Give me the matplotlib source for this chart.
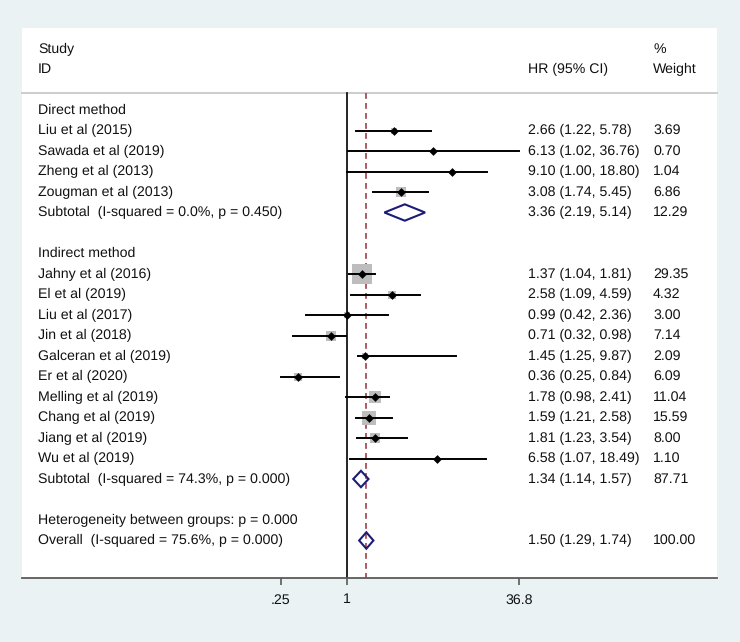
import numpy as np
import matplotlib
matplotlib.use("Agg")
import matplotlib.pyplot as plt
from matplotlib.patches import Polygon
import matplotlib.transforms as mtransforms

plt.rcParams['font.family'] = ['Liberation Sans', 'DejaVu Sans']
plt.rcParams['text.hinting'] = 'no_hinting'

# ---------------- data ----------------
group1_name = "Direct method"
group1_studies = ["Liu et al (2015)", "Sawada et al (2019)", "Zheng et al (2013)", "Zougman et al (2013)"]
group1_hr = [2.66, 6.13, 9.10, 3.08]
group1_lo = [1.22, 1.02, 1.00, 1.74]
group1_hi = [5.78, 36.76, 18.80, 5.45]
group1_w = [3.69, 0.70, 1.04, 6.86]
group1_sub = (3.36, 2.19, 5.14, 12.29)
group1_sub_label = "Subtotal  (I-squared = 0.0%, p = 0.450)"

group2_name = "Indirect method"
group2_studies = ["Jahny et al (2016)", "El et al (2019)", "Liu et al (2017)", "Jin et al (2018)",
                  "Galceran et al (2019)", "Er et al (2020)", "Melling et al (2019)",
                  "Chang et al (2019)", "Jiang et al (2019)", "Wu et al (2019)"]
group2_hr = [1.37, 2.58, 0.99, 0.71, 1.45, 0.36, 1.78, 1.59, 1.81, 6.58]
group2_lo = [1.04, 1.09, 0.42, 0.32, 1.25, 0.25, 0.98, 1.21, 1.23, 1.07]
group2_hi = [1.81, 4.59, 2.36, 0.98, 9.87, 0.84, 2.41, 2.58, 3.54, 18.49]
group2_w = [29.35, 4.32, 3.00, 7.14, 2.09, 6.09, 11.04, 15.59, 8.00, 1.10]
group2_sub = (1.34, 1.14, 1.57, 87.71)
group2_sub_label = "Subtotal  (I-squared = 74.3%, p = 0.000)"

het_label = "Heterogeneity between groups: p = 0.000"
overall = (1.50, 1.29, 1.74, 100.00)
overall_label = "Overall  (I-squared = 75.6%, p = 0.000)"

xticks = [0.25, 1, 36.8]
xtick_labels = [".25", "1", "36.8"]

# ---------------- figure ----------------
W, H = 740, 642
fig = plt.figure(figsize=(W / 100, H / 100), dpi=100)
fig.patch.set_facecolor('#EAF2F3')

left_px, right_px, top_px, bot_px = 22, 717, 28, 578
ax = fig.add_axes([left_px / W, 1 - bot_px / H, (right_px - left_px) / W, (bot_px - top_px) / H])
ax.set_facecolor('white')

px_per_ln = 47.7
x1_px = 347
ax.set_xscale('log')
ax.set_xlim(np.exp((left_px - x1_px) / px_per_ln), np.exp((right_px - x1_px) / px_per_ln))

row_h = 20.5
row0_px = 110
ax.set_ylim((bot_px - row0_px) / row_h, (top_px - row0_px) / row_h)

for s in ['top', 'left', 'right']:
    ax.spines[s].set_visible(False)
ax.spines['bottom'].set_color('#5a5a5a')
ax.spines['bottom'].set_linewidth(1.3)
ax.set_yticks([])
ax.set_xticks(xticks)
ax.set_xticklabels(xtick_labels)
ax.xaxis.set_minor_locator(matplotlib.ticker.NullLocator())
ax.tick_params(axis='x', length=5, width=1.2, color='#5a5a5a', labelsize=10.2, pad=6, labelcolor='#111111')

tr = mtransforms.blended_transform_factory(ax.transAxes, ax.transData)
fs = 10.2
col_lab = (38 - left_px) / (right_px - left_px)
col_hr = (528 - left_px) / (right_px - left_px)
col_w = (653 - left_px) / (right_px - left_px)
tc = '#111111'

header_row = (93 - row0_px) / row_h
ax.plot([0, 1], [header_row, header_row], transform=tr, color='#c8c8c8', lw=1.3, clip_on=False)
ax.text(col_lab, (49 - row0_px) / row_h, "Study", transform=tr, fontsize=fs, va='center', color=tc)
ax.text(col_lab, (69 - row0_px) / row_h, "ID", transform=tr, fontsize=fs, va='center', color=tc)
ax.text(col_hr, (69 - row0_px) / row_h, "HR (95% CI)", transform=tr, fontsize=fs, va='center', color=tc)
ax.text(col_w, (49 - row0_px) / row_h, "%", transform=tr, fontsize=fs, va='center', color=tc)
ax.text(col_w, (69 - row0_px) / row_h, "Weight", transform=tr, fontsize=fs, va='center', color=tc)

ybottom = ax.get_ylim()[0]
ax.plot([1, 1], [header_row, ybottom], color='black', lw=1.2, zorder=2)
ax.plot([overall[0], overall[0]], [header_row, ybottom], color='#a0404a', lw=1.2,
        ls=(0, (3.5, 2.5)), zorder=2)

def study_row(y, name, hr, lo, hi, w):
    ax.text(col_lab, y, name, transform=tr, fontsize=fs, va='center', color=tc)
    ax.scatter([hr], [y], marker='s', s=6.39 * w, color='#bdbdbd', zorder=3, linewidths=0)
    ax.plot([lo, hi], [y, y], color='black', lw=1.4, zorder=4)
    ax.scatter([hr], [y], marker='D', s=20, color='black', zorder=5, linewidths=0)
    ax.text(col_hr, y, f"{hr:.2f} ({lo:.2f}, {hi:.2f})", transform=tr, fontsize=fs, va='center', color=tc)
    ax.text(col_w, y, f"{w:.2f}", transform=tr, fontsize=fs, va='center', color=tc)

def diamond_row(y, label, est):
    hr, lo, hi, w = est
    ax.text(col_lab, y, label, transform=tr, fontsize=fs, va='center', color=tc)
    hh = 0.4
    poly = Polygon([(lo, y), (hr, y - hh), (hi, y), (hr, y + hh)], closed=True,
                   facecolor='none', edgecolor='#1c1c78', lw=1.5, zorder=5)
    ax.add_patch(poly)
    ax.text(col_hr, y, f"{hr:.2f} ({lo:.2f}, {hi:.2f})", transform=tr, fontsize=fs, va='center', color=tc)
    ax.text(col_w, y, f"{w:.2f}", transform=tr, fontsize=fs, va='center', color=tc)

y = 0
ax.text(col_lab, y, group1_name, transform=tr, fontsize=fs, va='center', color=tc)
y += 1
for i in range(len(group1_studies)):
    study_row(y, group1_studies[i], group1_hr[i], group1_lo[i], group1_hi[i], group1_w[i])
    y += 1
diamond_row(y, group1_sub_label, group1_sub)
y += 2
ax.text(col_lab, y, group2_name, transform=tr, fontsize=fs, va='center', color=tc)
y += 1
for i in range(len(group2_studies)):
    study_row(y, group2_studies[i], group2_hr[i], group2_lo[i], group2_hi[i], group2_w[i])
    y += 1
diamond_row(y, group2_sub_label, group2_sub)
y += 2
ax.text(col_lab, y, het_label, transform=tr, fontsize=fs, va='center', color=tc)
y += 1
diamond_row(y, overall_label, overall)

fig.savefig("out.png", dpi=100, facecolor=fig.get_facecolor())
